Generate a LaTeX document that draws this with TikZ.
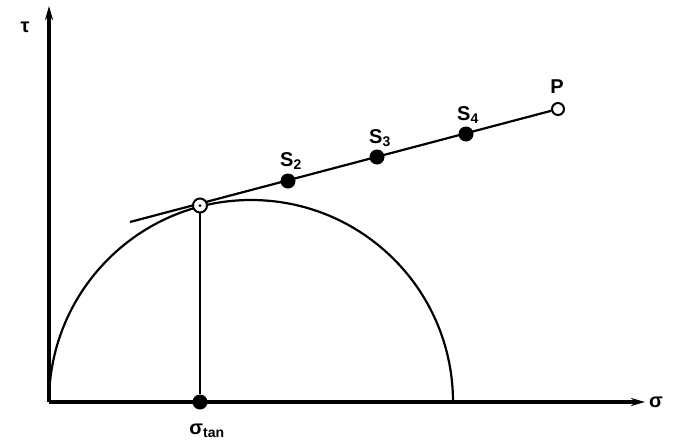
\documentclass[tikz,border=0pt]{standalone}
\usepackage{fontspec}
\setmainfont{Liberation Sans}
\usetikzlibrary{arrows.meta}
\begin{document}
\begin{tikzpicture}[x=1pt,y=-1pt,
  axis/.style={line width=3.2pt,-{Stealth[length=14pt,width=8pt]}},
  thin line/.style={line width=2.2pt},
  fdot/.style={circle,fill=black,inner sep=0pt,minimum size=15pt},
  odot/.style={circle,draw=black,fill=white,line width=2pt,inner sep=0pt,minimum size=12pt},
  lbl/.style={font=\fontsize{20}{20}\selectfont\bfseries,inner sep=1pt}]
\useasboundingbox (0,0) rectangle (686,447);
\coordinate (O) at (49,402);
\coordinate (tauend) at (49,6);
\coordinate (sigend) at (645,402);
\coordinate (L) at (130,222);
% semicircle
\draw[thin line] (453,402) arc[start angle=0,end angle=-180,radius=202];
% axes
\draw[axis] (O) -- (tauend);
\draw[axis] (O) -- (sigend);
% points
\node[odot] (P) at (558,109) {};
\draw[thin line] (L) -- (P);
\node[fdot] (S2) at (288,181) {};
\node[fdot] (S3) at (377,157) {};
\node[fdot] (S4) at (466,134) {};
\node[fdot] (Sig) at (200,402) {};
\coordinate (Tc) at (200,205.5);
\draw[thin line] (Tc) -- (Sig);
\node[odot,minimum size=14pt] (T) at (Tc) {};
\node[circle,fill=black,inner sep=0pt,minimum size=3pt] (Tdot) at (Tc) {};
% labels
\node[lbl] (taul) at (25,27) {τ};
\node[lbl] (sigl) at (656,402) {σ};
\node[lbl] (S2l) at (291,161) {S\textsubscript{2}};
\node[lbl] (S3l) at (380,138) {S\textsubscript{3}};
\node[lbl] (S4l) at (468,115) {S\textsubscript{4}};
\node[lbl] (Pl) at (557,87) {P};
\node[lbl] (sigtan) at (207,431) {σ\textsubscript{tan}};
\end{tikzpicture}
\end{document}
